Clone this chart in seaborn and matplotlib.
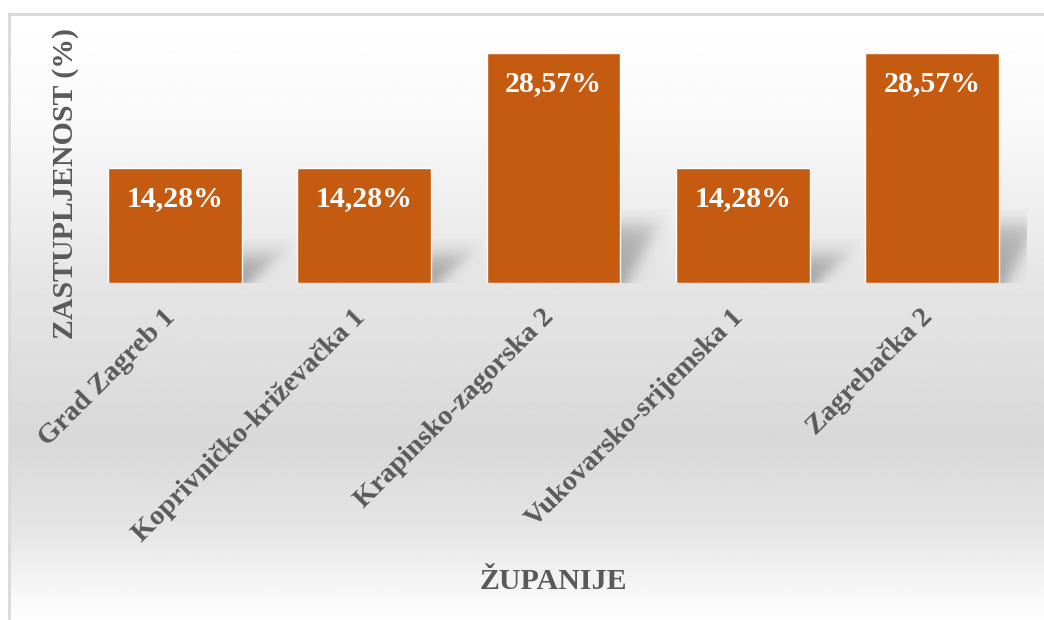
import numpy as np
import matplotlib
matplotlib.use("Agg")
import matplotlib.pyplot as plt
from matplotlib.transforms import ScaledTranslation
import seaborn as sns

# ---- data ----
categories = ["Grad Zagreb 1", "Koprivničko-križevačka 1", "Krapinsko-zagorska 2",
              "Vukovarsko-srijemska 1", "Zagrebačka 2"]
values = [14.28, 14.28, 28.57, 14.28, 28.57]
value_labels = ["14,28%", "14,28%", "28,57%", "14,28%", "28,57%"]
x_title = "ŽUPANIJE"
y_title = "ZASTUPLJENOST (%)"

BAR = "#C55A11"
TXT = "#595959"
FS = 21.5

sns.set_theme(style="white")
plt.rcParams['font.family'] = ['Liberation Serif', 'DejaVu Serif']

W, H = 1044, 620
fig = plt.figure(figsize=(W / 100, H / 100), dpi=100)
fig.patch.set_facecolor("white")

# ---- background gradient panel ----
bg = fig.add_axes([9 / W, 0, 1 - 9 / W, (H - 14) / H], zorder=0)
stops_px = [14, 120, 283, 440, 530, 605, 620]
stops_g = [255, 249, 229, 216, 229, 250, 254]
rows = np.arange(14, 621)
g = np.interp(rows, stops_px, stops_g) / 255.0
img = np.repeat(g[:, None], 4, axis=1)
bg.imshow(img, cmap="gray", vmin=0, vmax=1, extent=[0, 1, 0, 1], aspect="auto",
          interpolation="bilinear", origin="upper")
bg.set_xticks([]); bg.set_yticks([])
for k, sp in bg.spines.items():
    if k in ("left", "top"):
        sp.set_color("#d9d9d9"); sp.set_linewidth(2)
    else:
        sp.set_visible(False)

# ---- main axes ----
ax = fig.add_axes([80.4 / W, 1 - 283 / H, 946.2 / W, 241.5 / H], zorder=1)
ax.patch.set_alpha(0)
sns.barplot(x=categories, y=values, color=BAR, saturation=1, width=0.708, ax=ax, zorder=3)
ax.set_xlim(-0.5, 4.5)
ax.set_ylim(0, 30)

# soft perspective shadows behind bars
ppx = 946.2 / 5.0
ppy = 241.5 / 30.0
sig = lambda z: 1 / (1 + np.exp(-z))
for bar in ax.patches:
    xr = bar.get_x() + bar.get_width()
    h = bar.get_height()
    kh = 0.26 * h * ppy
    s_px = 32.0
    xs = np.linspace(-6, 50, 120)
    ys = np.linspace(0, kh + 14, 120)
    X, Y = np.meshgrid(xs, ys)
    t = Y / kh
    d1 = s_px * t + 6 - X
    d2 = kh - Y
    soft = sig(d1 / 5.5) * sig(d2 / 5.5)
    alpha = 0.55 * soft * (1 - 0.35 * np.clip(t, 0, 1))
    rgba = np.zeros(X.shape + (4,))
    rgba[..., :3] = 0.38
    rgba[..., 3] = alpha
    ax.imshow(rgba, extent=[xr - 6 / ppx, xr + 50 / ppx, 0, (kh + 14) / ppy],
              origin="lower", aspect="auto", zorder=1, interpolation="bilinear")
ax.set_xlim(-0.5, 4.5)
ax.set_ylim(0, 30)

ax.bar_label(ax.containers[0], labels=value_labels, padding=-32, color="white",
             fontsize=FS, fontweight="bold")

for sp in ax.spines.values():
    sp.set_visible(False)
ax.set_yticks([])
ax.set_xticks(range(len(categories)))
ax.tick_params(axis="x", length=0, pad=22, labelsize=20.5, labelcolor=TXT)
ax.set_xticklabels(categories, rotation=45, ha="right", va="center",
                   rotation_mode="anchor", fontweight="bold")
shift = ScaledTranslation(-3 / 100, 0, fig.dpi_scale_trans)
for lbl in ax.get_xticklabels():
    lbl.set_transform(lbl.get_transform() + shift)

ax.set_ylabel(y_title, fontsize=FS, fontweight="bold", color=TXT)
ax.yaxis.set_label_coords(-0.002, 0.41)
ax.set_xlabel(x_title, fontsize=FS, fontweight="bold", color=TXT)
ax.xaxis.set_label_coords(0.5, (283 - 568) / 241.5)

fig.savefig("out.png", dpi=100)
